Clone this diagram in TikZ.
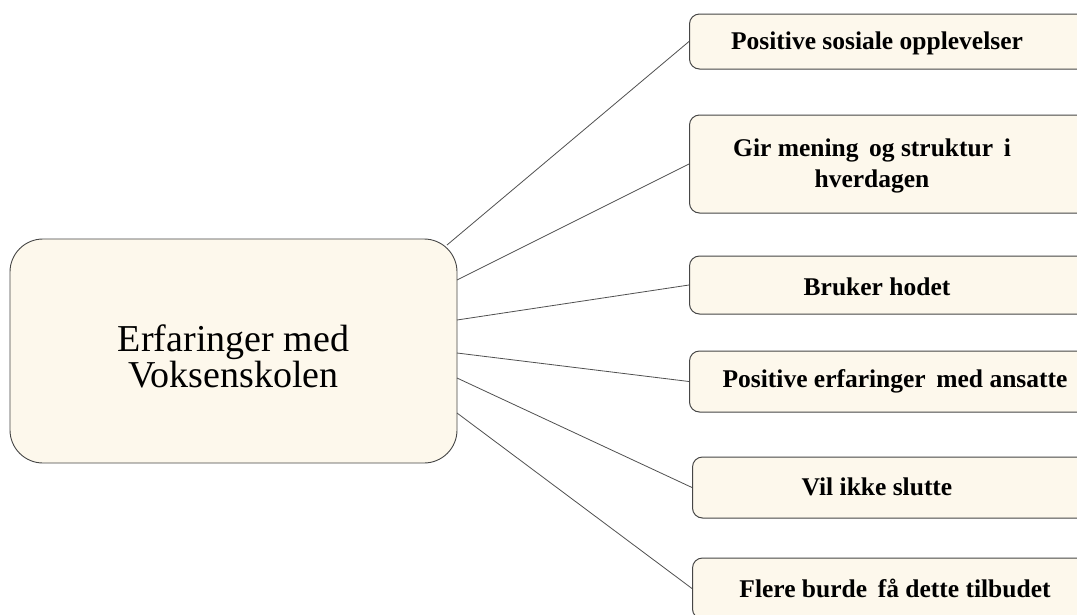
\documentclass[tikz,border=0pt]{standalone}
\usepackage{fontspec}
\setmainfont{Liberation Serif}
\definecolor{boxfill}{RGB}{253,248,236}
\definecolor{boxline}{RGB}{70,70,70}
\definecolor{conn}{RGB}{80,80,80}
\tikzset{
  mainbox/.style={draw=boxline, fill=boxfill, line width=0.9pt, rounded corners=33pt,
    minimum width=447pt, minimum height=224pt, inner sep=0pt},
  sidebox/.style={draw=boxline, fill=boxfill, line width=1pt, rounded corners=10pt,
    minimum width=420pt, inner sep=0pt, anchor=west},
  lbl/.style={font=\fontsize{25.5}{31}\selectfont\bfseries, align=center, inner sep=0pt},
  conn/.style={draw=conn, line width=0.8pt}
}
\begin{document}
\begin{tikzpicture}[x=1pt,y=-1pt]
\useasboundingbox (0,0) rectangle (1077,614);
\clip (0,0) rectangle (1077,614);
\fill[white] (0,0) rectangle (1077,614);
% central box
\node[mainbox] (c) at (233.5,351) {};
\node[font=\fontsize{38}{36}\selectfont, align=center, inner sep=0pt] (ct) at (233.5,356) {Erfaringer med\\Voksenskolen};
% side boxes
\node[sidebox, minimum height=55pt] (b1) at (689,41.5) {};
\node[sidebox, minimum height=98pt] (b2) at (689,164) {};
\node[sidebox, minimum height=58pt] (b3) at (689,285) {};
\node[sidebox, minimum height=61pt] (b4) at (689,381.5) {};
\node[sidebox, minimum height=61pt] (b5) at (692,487.5) {};
\node[sidebox, minimum height=61pt] (b6) at (692,588.5) {};
% labels
\node[lbl] (t1) at (877,43) {Positive sosiale opplevelser};
\node[lbl] (t2) at (872,166) {Gir mening\, og struktur\, i\\hverdagen};
\node[lbl] (t3) at (877,287) {Bruker hodet};
\node[lbl] (t4) at (895,381) {Positive erfaringer\, med ansatte};
\node[lbl] (t5) at (877,487) {Vil ikke slutte};
\node[lbl] (t6) at (895,588) {Flere burde\, få dette tilbudet};
% connector start points on the central box
\coordinate (s1) at (447,245);
\coordinate (s2) at (457,280);
\coordinate (s3) at (457,320);
\coordinate (s4) at (457,353);
\coordinate (s5) at (457,378);
\coordinate (s6) at (457,413);
\draw[conn] (s1) -- (b1.west);
\draw[conn] (s2) -- (b2.west);
\draw[conn] (s3) -- (b3.west);
\draw[conn] (s4) -- (b4.west);
\draw[conn] (s5) -- (b5.west);
\draw[conn] (s6) -- (b6.west);
\end{tikzpicture}
\end{document}
